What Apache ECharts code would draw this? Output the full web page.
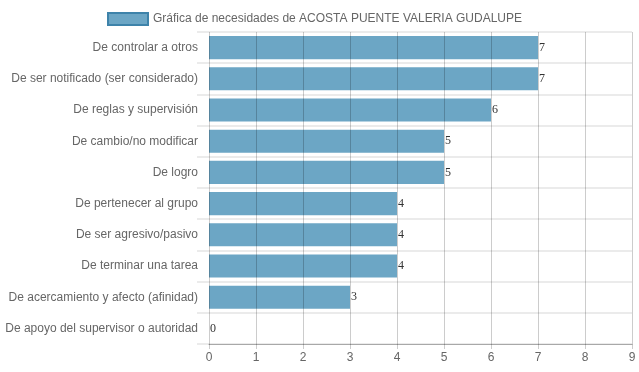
<!DOCTYPE html>
<html><head><meta charset="utf-8">
<script src="https://cdn.jsdelivr.net/npm/echarts@6/dist/echarts.min.js"></script>
<style>html,body{margin:0;padding:0;background:#fff}#c{width:639px;height:372px}</style>
</head><body><div id="c"></div>
<script>
const categories = ["De controlar a otros","De ser notificado (ser considerado)","De reglas y supervisión","De cambio/no modificar","De logro","De pertenecer al grupo","De ser agresivo/pasivo","De terminar una tarea","De acercamiento y afecto (afinidad)","De apoyo del supervisor o autoridad"];
const values = [7,7,6,5,5,4,4,4,3,0];
const seriesName = "Gráfica de necesidades de ACOSTA PUENTE VALERIA GUDALUPE";
const chart = echarts.init(document.getElementById('c'), null, {renderer:'canvas'});
chart.setOption({
  animation:false,
  textStyle:{fontFamily:'Liberation Sans, Arial, sans-serif'},
  legend:{
    top:7, left:102, itemWidth:40, itemHeight:12, itemGap:6,
    textStyle:{color:'#666', fontSize:12},
    data:[{name:seriesName, icon:'rect', itemStyle:{color:'#6ca6c5', borderColor:'#3e83aa', borderWidth:2}}]
  },
  grid:{left:209, right:7, top:32, bottom:28},
  xAxis:{
    type:'value', min:0, max:9, interval:1, z:3,
    axisLine:{show:true, lineStyle:{color:'#a8a8a8', width:1}},
    axisTick:{show:true, length:5, lineStyle:{color:'rgba(0,0,0,0.2)'}},
    axisLabel:{color:'#666', fontSize:12, margin:8},
    splitLine:{show:true, lineStyle:{color:'rgba(0,0,0,0.2)', width:1}}
  },
  yAxis:{
    type:'category', data:categories, inverse:true,
    axisLine:{show:false},
    axisTick:{show:true, length:12, lineStyle:{color:'#ebebeb', width:2}},
    axisLabel:{color:'#666', fontSize:12, margin:11},
    splitLine:{show:true, lineStyle:{color:'#ebebeb', width:2}}
  },
  series:[{
    name:seriesName, type:'bar', data:values, barCategoryGap:'26%',
    itemStyle:{color:'#6ca6c5'},
    label:{show:true, position:'right', distance:1, color:'#333', fontSize:12, fontFamily:'Liberation Serif, Times New Roman, serif'}
  }]
});
</script></body></html>
